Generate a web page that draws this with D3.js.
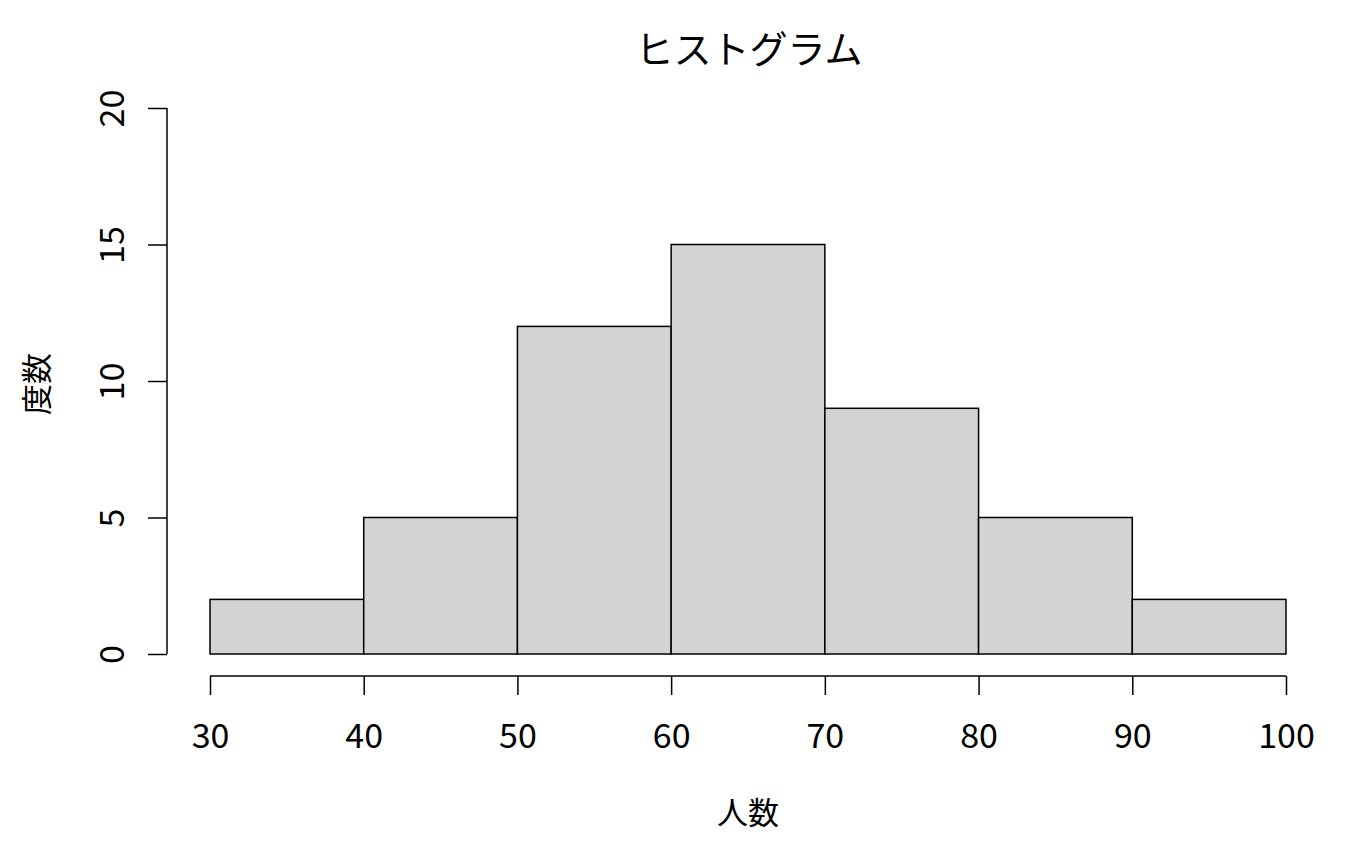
<!DOCTYPE html>
<html><head><meta charset="utf-8">
<script src="https://cdn.jsdelivr.net/npm/d3@7"></script>
<style>body{margin:0;background:#fff}</style>
</head><body>
<svg id="c" width="1354" height="860"></svg>
<script>
const binEdges = [30,40,50,60,70,80,90,100];
const counts = [2,5,12,15,9,5,2];
const xTicks = [30,40,50,60,70,80,90,100];
const yTicks = [0,5,10,15,20];
const titleText = "ヒストグラム";
const xLabel = "人数";
const yLabel = "度数";

const font = "'Noto Sans CJK JP','Noto Sans',sans-serif";
const svg = d3.select("#c");
const x = d3.scaleLinear().domain([30,100]).range([210,1286]);
const y = d3.scaleLinear().domain([0,20]).range([654,108]);

const bins = counts.map((c,i)=>({x0:binEdges[i],x1:binEdges[i+1],c}));
svg.append("g").selectAll("rect").data(bins).join("rect")
  .attr("x",d=>x(d.x0)).attr("width",d=>x(d.x1)-x(d.x0))
  .attr("y",d=>y(d.c)).attr("height",d=>y(0)-y(d.c))
  .attr("fill","#d3d3d3").attr("stroke","#000").attr("stroke-width",1.5);

const xa = svg.append("g").attr("transform","translate(0,676)")
  .call(d3.axisBottom(x).tickValues(xTicks).tickSize(19).tickSizeOuter(0));
xa.select(".domain").attr("d",`M${x(30)},0H${x(100)}`);
xa.selectAll("line,path").attr("stroke","#000").attr("stroke-width",1.5);
xa.selectAll(".tick text").attr("font-family",font).attr("font-size",34).attr("fill","#000")
  .attr("y",57).attr("dy",null).attr("dominant-baseline","central");

const ya = svg.append("g").attr("transform","translate(167,0)")
  .call(d3.axisLeft(y).tickValues(yTicks).tickSize(19).tickSizeOuter(0));
ya.select(".domain").attr("d",`M0,${y(0)}V${y(20)}`);
ya.selectAll("line,path").attr("stroke","#000").attr("stroke-width",1.5);
ya.selectAll(".tick text").attr("font-family",font).attr("font-size",34).attr("fill","#000")
  .attr("x",0).attr("dy",null).attr("text-anchor","middle").attr("dominant-baseline","central")
  .attr("transform","translate(-58,0) rotate(-90)");

svg.append("text").attr("x",749).attr("y",46).attr("text-anchor","middle")
  .attr("dominant-baseline","central").attr("font-family",font).attr("font-size",38).text(titleText);
svg.append("text").attr("x",748).attr("y",810).attr("text-anchor","middle")
  .attr("dominant-baseline","central").attr("font-family",font).attr("font-size",31).text(xLabel);
svg.append("text").attr("transform","translate(34,384) rotate(-90)").attr("text-anchor","middle")
  .attr("dominant-baseline","central").attr("font-family",font).attr("font-size",31).text(yLabel);
</script>
</body></html>
